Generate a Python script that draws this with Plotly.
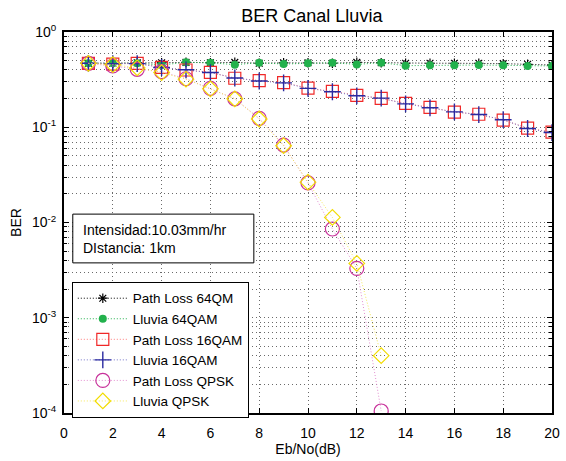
import plotly.graph_objects as go

# Eb/No axis values (dB)
ebno_qam = list(range(1, 21))
ebno_qpsk = list(range(1, 14))

# BER curves
ber_pl_64qam = [0.470, 0.470, 0.475, 0.475, 0.480, 0.475, 0.480, 0.470, 0.475, 0.475,
                0.470, 0.480, 0.475, 0.470, 0.470, 0.470, 0.470, 0.465, 0.458, 0.450]
ber_ll_64qam = [0.469, 0.469, 0.469, 0.450, 0.481, 0.476, 0.454, 0.476, 0.461, 0.469,
                0.476, 0.457, 0.476, 0.443, 0.447, 0.447, 0.450, 0.447, 0.440, 0.440]
ber_pl_16qam = [0.469, 0.461, 0.469, 0.426, 0.399, 0.377, 0.327, 0.308, 0.294, 0.258,
                0.238, 0.216, 0.201, 0.178, 0.162, 0.144, 0.137, 0.119, 0.098, 0.089]
ber_ll_16qam = [0.469, 0.465, 0.466, 0.424, 0.401, 0.375, 0.329, 0.306, 0.292, 0.256,
                0.236, 0.214, 0.202, 0.176, 0.160, 0.145, 0.136, 0.120, 0.097, 0.088]
ber_pl_qpsk = [0.469, 0.440, 0.406, 0.383, 0.323, 0.256, 0.199, 0.124, 0.065, 0.026,
               0.00855, 0.0033, 0.000105]
ber_ll_qpsk = [0.469, 0.455, 0.420, 0.375, 0.320, 0.253, 0.199, 0.122, 0.064, 0.0265,
               0.0113, 0.00372, 0.0004]

series_names = ["Path Loss 64QM", "Lluvia 64QAM", "Path Loss 16QAM",
                "Lluvia 16QAM", "Path Loss QPSK", "Lluvia QPSK"]

y_tickvals = [1e-4, 1e-3, 1e-2, 1e-1, 1]
y_ticktext = ["10<sup>-4</sup>", "10<sup>-3</sup>", "10<sup>-2</sup>",
              "10<sup>-1</sup>", "10<sup>0</sup>"]
# minor log ticks 2..9 in every decade
y_minor_vals = [m * 10.0 ** e for e in range(-4, 0) for m in range(2, 10)]

FONT = "Liberation Sans, Arial, sans-serif"
GRID = "#6a6a6a"
GRID_DASH = "1px,3px"

fig = go.Figure()

styles = [
    (ebno_qam, ber_pl_64qam, "#000000", "#000000", "asterisk-open", 8, 1.2),
    (ebno_qam, ber_ll_64qam, "#22b14c", "#22b14c", "circle", 8, 0),
    (ebno_qam, ber_pl_16qam, "#ff7a7a", "#f02828", "square-open", 12, 1.2),
    (ebno_qam, ber_ll_16qam, "#7373c8", "#2a2aa0", "cross-thin-open", 12, 1.4),
    (ebno_qpsk, ber_pl_qpsk, "#e38fd0", "#c8329b", "circle-open", 14, 1.2),
    (ebno_qpsk, ber_ll_qpsk, "#f5e85a", "#f2dc00", "diamond-open", 12, 1.2),
]

for name, (xs, ys, lcolor, mcolor, sym, size, lw) in zip(series_names, styles):
    fig.add_trace(go.Scatter(
        x=xs, y=ys, name=name, mode="lines+markers",
        line=dict(color=lcolor, width=1, dash="1px,2px"),
        marker=dict(symbol=sym, size=size, color=mcolor,
                    line=dict(color=mcolor, width=lw)),
    ))

# text box with channel parameters
fig.add_shape(type="rect", xref="paper", yref="paper",
              x0=0.018, x1=0.389, y0=0.394, y1=0.522,
              line=dict(color="black", width=1), fillcolor="white", layer="above")
fig.add_annotation(xref="paper", yref="paper", x=0.034, y=0.458,
                   xanchor="left", yanchor="middle", align="left", showarrow=False,
                   text="Intensidad:10.03mm/hr<br>DIstancia: 1km",
                   font=dict(family=FONT, size=14, color="black"))

axis_common = dict(
    showline=True, linecolor="black", linewidth=2, mirror="allticks",
    ticks="inside", ticklen=5, tickcolor="black",
    showgrid=True, gridcolor=GRID, griddash=GRID_DASH, gridwidth=1,
    zeroline=False, tickfont=dict(family=FONT, size=14, color="black"),
)

fig.update_xaxes(range=[0, 20], dtick=2, tick0=0, ticklabelstandoff=6,
                 title=dict(text="Eb/No(dB)", font=dict(family=FONT, size=14, color="black"),
                            standoff=4),
                 **axis_common)
fig.update_yaxes(type="log", range=[-4, 0], tickmode="array",
                 tickvals=y_tickvals, ticktext=y_ticktext, ticklabelstandoff=3,
                 title=dict(text="BER", font=dict(family=FONT, size=14, color="black"),
                            standoff=7),
                 minor=dict(tickmode="array", tickvals=y_minor_vals,
                            ticks="inside", ticklen=3, tickcolor="black",
                            showgrid=True, gridcolor=GRID, griddash=GRID_DASH,
                            gridwidth=1),
                 **axis_common)

fig.update_layout(
    width=566, height=461,
    margin=dict(l=64, r=6, t=32, b=48),
    paper_bgcolor="white", plot_bgcolor="white",
    title=dict(text="BER Canal Lluvia", x=0.551, xanchor="center",
               y=0.967, yanchor="middle", yref="container",
               font=dict(family=FONT, size=18, color="black")),
    legend=dict(x=0.016, y=0.344, xanchor="left", yanchor="top",
                bgcolor="white", bordercolor="black", borderwidth=1,
                font=dict(family=FONT, size=13.5, color="black"),
                itemwidth=50, tracegroupgap=0),
    showlegend=True,
)

fig.write_html("out.html")
